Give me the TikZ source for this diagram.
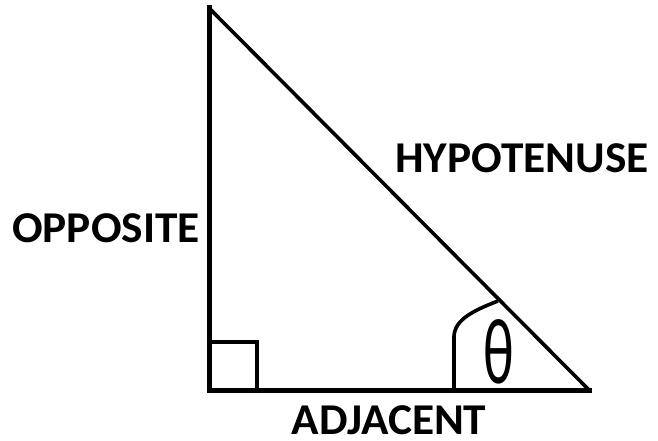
\documentclass[tikz,border=0pt]{standalone}
\usepackage{fontspec}
\setmainfont{Carlito}
\begin{document}
\begin{tikzpicture}[x=1pt,y=-1pt,
  leg/.style={line width=5pt,line cap=rect},
  hyp/.style={line width=3.6pt},
  anglemark/.style={line width=3.6pt},
  lbl/.style={font=\fontsize{44}{44}\selectfont\bfseries,inner sep=0pt,anchor=base}]
\useasboundingbox (0,0) rectangle (658,441);
\coordinate (A) at (209,8);
\coordinate (B) at (209,390);
\coordinate (C) at (589,390);
\draw[leg] (A) -- (B) -- (C);
\draw[hyp] (A) -- (C);
\coordinate (s1) at (209,342);
\coordinate (s2) at (257,342);
\coordinate (s3) at (257,390);
\draw[line width=4.5pt] (s1) -- (s2) -- (s3);
\coordinate (a1) at (454,390);
\coordinate (a2) at (498,301);
\draw[anglemark] (a1) -- (454,336) .. controls (455,320) and (472,311) .. (a2);
\node[lbl,xscale=1.03] (opp) at (106,242) {OPPOSITE};
\node[lbl,xscale=1.03] (hyp) at (522,172) {HYPOTENUSE};
\node[lbl,xscale=1.03] (adj) at (389,434) {ADJACENT};
\node[inner sep=0pt,font=\fontsize{72}{72}\selectfont,xscale=0.8,yscale=1.3] (th) at (499,352) {θ};
\end{tikzpicture}
\end{document}
